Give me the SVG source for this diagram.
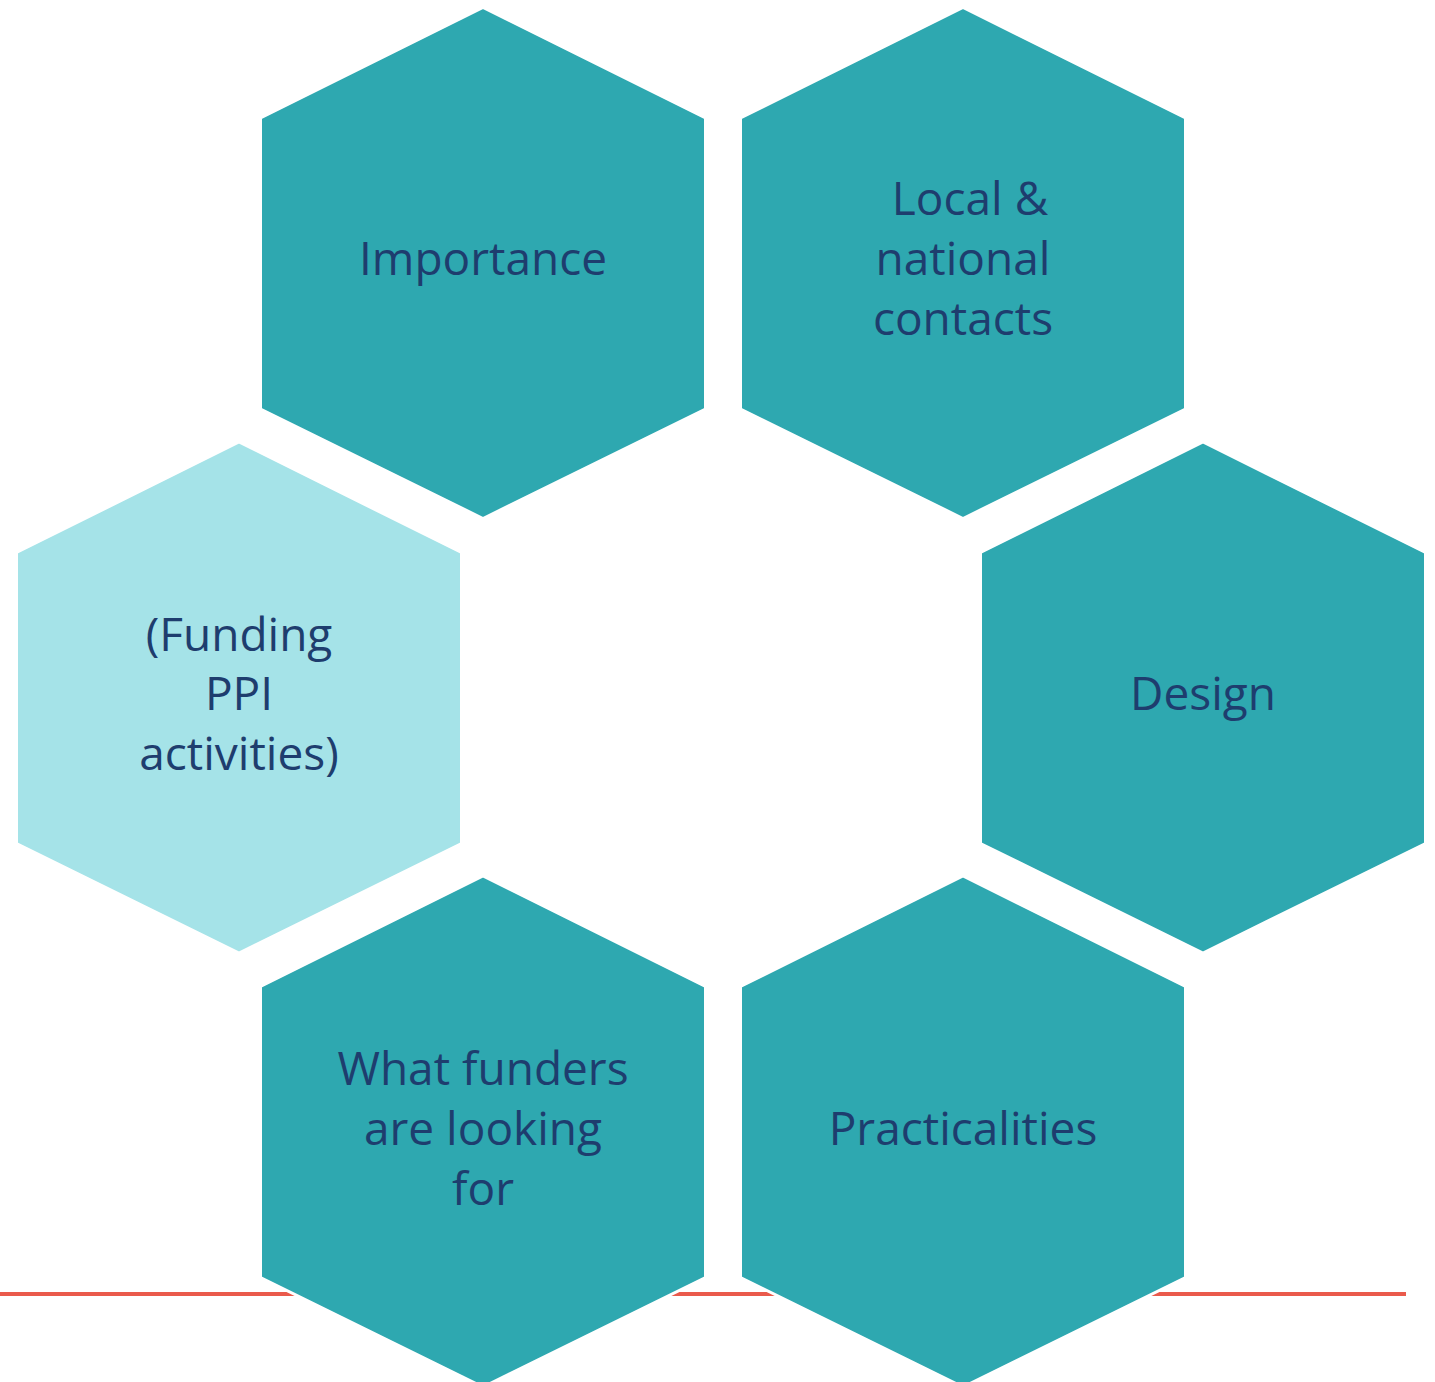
<svg xmlns="http://www.w3.org/2000/svg" width="1435" height="1382" viewBox="0 0 1435 1382">
<defs>
<style>
.hex{fill:#2EA8B0;stroke:#FFFFFF;stroke-width:3;stroke-linejoin:miter}
.hex.light{fill:#A5E3E8}
.lbl{font-family:"Open Sans","Liberation Sans",sans-serif;font-size:46px;fill:#1E3D6E;text-anchor:middle}
</style>
<polygon id="hx" points="0,-1 222.5,109.5 222.5,400.5 0,510 -222.5,400.5 -222.5,109.5"/>
</defs>
<rect width="1435" height="1382" fill="#FFFFFF"/>
<g id="connectors">
<line x1="0" y1="1294" x2="1406" y2="1294" stroke="#EA5A4C" stroke-width="4"/>
</g>
<g id="importance">
<use href="#hx" class="hex" x="483" y="8.5"/>
<text class="lbl" x="483" y="275">Importance</text>
</g>
<g id="local-national">
<use href="#hx" class="hex" x="963" y="8.5"/>
<text class="lbl" x="970" y="215">Local &amp;</text>
<text class="lbl" x="963" y="275">national</text>
<text class="lbl" x="963" y="335">contacts</text>
</g>
<g id="funding-ppi">
<use href="#hx" class="hex light" x="239" y="443"/>
<text class="lbl" x="239" y="651">(Funding</text>
<text class="lbl" x="239" y="710">PPI</text>
<text class="lbl" x="239" y="770">activities)</text>
</g>
<g id="design">
<use href="#hx" class="hex" x="1203" y="443"/>
<text class="lbl" x="1203" y="710">Design</text>
</g>
<g id="what-funders">
<use href="#hx" class="hex" x="483" y="877"/>
<text class="lbl" x="483" y="1085">What funders</text>
<text class="lbl" x="483" y="1145">are looking</text>
<text class="lbl" x="483" y="1205">for</text>
</g>
<g id="practicalities">
<use href="#hx" class="hex" x="963" y="877"/>
<text class="lbl" x="963" y="1145">Practicalities</text>
</g>
</svg>
